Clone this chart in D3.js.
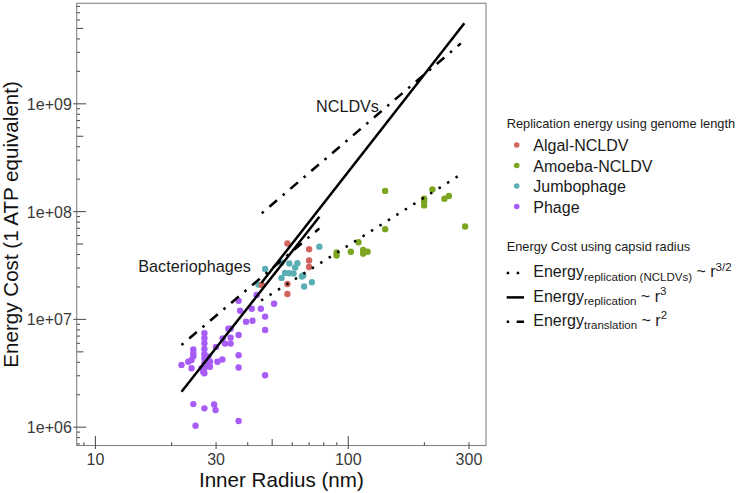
<!DOCTYPE html>
<html>
<head>
<meta charset="utf-8">
<script src="https://cdn.jsdelivr.net/npm/d3@7"></script>
<style>
  html, body { margin: 0; padding: 0; background: #ffffff; }
  svg { display: block; font-family: "Liberation Sans", Arial, Helvetica, sans-serif; }
</style>
</head>
<body>
<script>
// ---------------- DATA ----------------
const groups = ["Algal-NCLDV", "Amoeba-NCLDV", "Jumbophage", "Phage"];

// [inner radius (nm), energy cost (ATP)]
const phagePoints = [
  [43.6,1.67e7],[37.0,1.47e7],[51.1,1.38e7],[37.5,1.19e7],[41.7,1.24e7],[45.3,1.24e7],
  [47.1,1.05e7],[39.6,9.4e6],[42.0,9.6e6],[47.1,7.9e6],[33.7,8.1e6],[34.4,8.1e6],
  [37.0,7.1e6],[32.0,6.6e6],[34.4,6.7e6],[32.7,5.9e6],[34.4,5.9e6],[30.1,5.5e6],
  [30.5,4.0e6],[31.9,4.2e6],[37.0,4.6e6],[37.0,3.54e6],[47.1,3.0e6],
  [27.1,7.35e6],[27.1,6.61e6],[27.1,5.94e6],[27.1,5.26e6],[27.1,4.73e6],[27.1,4.31e6],
  [27.1,3.87e6],[27.1,3.48e6],[27.1,3.13e6],
  [24.5,5.2e6],[24.5,4.8e6],[24.5,4.5e6],[23.4,4.0e6],[24.1,4.16e6],[22.0,3.74e6],
  [24.1,3.48e6],[26.4,3.48e6],[26.8,3.24e6],[28.1,4.46e6],[28.5,4.0e6],[28.5,3.6e6],
  [27.7,3.74e6],
  [24.5,1.62e6],[27.1,1.48e6],[29.6,1.61e6],[30.0,1.43e6],[25.0,1.02e6],[37.0,1.13e6]
];
const jumbophagePoints = [
  [77.2,4.68e7],[54.7,3.34e7],[58.7,3.27e7],[63.2,3.28e7],[61.9,3.0e7],[47.1,2.90e7],
  [56.5,2.67e7],[58.7,2.65e7],[61.0,2.64e7],[65.8,2.47e7],[66.6,2.53e7],[54.7,2.40e7],
  [72.1,2.19e7],[67.2,2.0e7],[44.3,2.08e7]
];
const algalPoints = [
  [57.7,5.01e7],[70.3,4.42e7],[70.3,3.48e7],[70.3,3.03e7],[57.7,2.11e7],[57.7,1.70e7],[45.7,2.06e7]
];
const amoebaPoints = [
  [140.5,1.54e8],[216,1.59e8],[200.4,1.30e8],[200.4,1.22e8],[200.4,1.13e8],[241,1.30e8],
  [251,1.38e8],[291,7.2e7],[140.5,6.8e7],[110.2,5.14e7],[90.3,4.13e7],[90.3,3.87e7],
  [102.8,4.20e7],[115,4.36e7],[115,4.03e7],[119.8,4.20e7]
];

// Energy-cost curves: endpoints [radius, energy]
const phageReplicationLine   = [[22.0, 2.11e6], [77.2, 8.87e7]];   // ~ r^3
const phageTranslationLine   = [[22.0, 5.73e6], [77.2, 6.92e7]];   // ~ r^2
const ncldvReplicationLine   = [[45.5, 2.15e7], [289, 5.52e9]];    // ~ r^3
const ncldvTranslationLine   = [[45.7, 9.55e7], [280, 3.6e9]];     // ~ r^2
const ncldvGenomeRepLine     = [[45.4, 1.48e7], [280, 2.19e8]];    // ~ r^3/2

const xTickValues = [10, 30, 100, 300];
const xTickLabels = ["10", "30", "100", "300"];
const yTickValues = [1e6, 1e7, 1e8, 1e9];
const yTickLabels = ["1e+06", "1e+07", "1e+08", "1e+09"];

// ---------------- STYLE ----------------
const groupColors = {
  "Algal-NCLDV": "#D2665E",
  "Amoeba-NCLDV": "#7CA620",
  "Jumbophage": "#5AAFB5",
  "Phage": "#A85CF6"
};
const dash = { solid: null, dotted: "2.5,7.5", dotdash: "2.5,7.5,10,7.5" };
const W = 736, H = 493;
const pL = 76.7, pR = 486, pT = 3.3, pB = 445.5;

const svg = d3.select("body").append("svg").attr("width", W).attr("height", H);
svg.append("rect").attr("width", W).attr("height", H).attr("fill", "#fff");

const x = d3.scaleLog().domain([8.47, 352]).range([pL, pR]);
const y = d3.scaleLog().domain([6.69e5, 8.47e9]).range([pB, pT]);

// panel border
svg.append("rect").attr("x", pL).attr("y", pT)
  .attr("width", pR - pL).attr("height", pB - pT)
  .attr("fill", "none").attr("stroke", "#858585").attr("stroke-width", 1.1);

// log ticks (inside)
function logVals(lo, hi, mults) {
  const out = [];
  for (let k = Math.floor(Math.log10(lo)); k <= Math.ceil(Math.log10(hi)); k++) {
    mults.forEach(m => { const v = m * Math.pow(10, k); if (v >= lo && v <= hi) out.push(v); });
  }
  return out;
}
const tickCol = "#555";
const xd = x.domain(), yd = y.domain();
[[ [1], 9.5 ], [ [5], 6.6 ], [ [2,3,4,6,7,8,9], 3.3 ]].forEach(([m, len]) => {
  const gx = svg.append("g").attr("transform", `translate(0,${pB})`)
    .call(d3.axisBottom(x).tickValues(logVals(xd[0], xd[1], m)).tickSize(-len).tickFormat(""));
  gx.select(".domain").remove();
  gx.selectAll("line").attr("stroke", tickCol).attr("stroke-width", 1.1);
  const gy = svg.append("g").attr("transform", `translate(${pL},0)`)
    .call(d3.axisLeft(y).tickValues(logVals(yd[0], yd[1], m)).tickSize(-len).tickFormat(""));
  gy.select(".domain").remove();
  gy.selectAll("line").attr("stroke", tickCol).attr("stroke-width", 1.1);
});

// labelled axes (outside ticks)
const xAxis = svg.append("g").attr("transform", `translate(0,${pB})`)
  .call(d3.axisBottom(x).tickValues(xTickValues).tickSize(3.4).tickPadding(4.8)
    .tickFormat((d, i) => xTickLabels[i]));
xAxis.select(".domain").remove();
xAxis.selectAll("line").attr("stroke", tickCol).attr("stroke-width", 1.1);
xAxis.selectAll("text").attr("font-size", 16).attr("fill", "#3a3a3a")
  .attr("font-family", "Liberation Sans, Arial, sans-serif");

const yAxis = svg.append("g").attr("transform", `translate(${pL},0)`)
  .call(d3.axisLeft(y).tickValues(yTickValues).tickSize(3.4).tickPadding(1.5)
    .tickFormat((d, i) => yTickLabels[i]));
yAxis.select(".domain").remove();
yAxis.selectAll("line").attr("stroke", tickCol).attr("stroke-width", 1.1);
yAxis.selectAll("text").attr("font-size", 16).attr("fill", "#3a3a3a")
  .attr("dy", "0.37em")
  .attr("font-family", "Liberation Sans, Arial, sans-serif");

// points
const plotG = svg.append("g");
const pointSets = [
  ["Phage", phagePoints], ["Jumbophage", jumbophagePoints],
  ["Amoeba-NCLDV", amoebaPoints], ["Algal-NCLDV", algalPoints]
];
pointSets.forEach(([g, pts]) => {
  plotG.selectAll(null).data(pts).enter().append("circle")
    .attr("cx", d => x(d[0])).attr("cy", d => y(d[1])).attr("r", 3.2)
    .attr("fill", groupColors[g]);
});

// lines
const lineGen = d3.line().x(d => x(d[0])).y(d => y(d[1]));
const lineSets = [
  [phageReplicationLine, "solid"], [ncldvReplicationLine, "solid"],
  [phageTranslationLine, "dotdash"], [ncldvTranslationLine, "dotdash"],
  [ncldvGenomeRepLine, "dotted"]
];
lineSets.forEach(([pts, type]) => {
  plotG.append("path").attr("d", lineGen(pts)).attr("fill", "none")
    .attr("stroke", "#000").attr("stroke-width", 2.5)
    .attr("stroke-dasharray", dash[type]).attr("stroke-linecap", "butt");
});

// annotations
svg.append("text").attr("x", 316).attr("y", 111.7).attr("font-size", 16.2).attr("fill", "#1a1a1a").text("NCLDVs");
svg.append("text").attr("x", 138.3).attr("y", 271.7).attr("font-size", 16.2).attr("fill", "#1a1a1a").text("Bacteriophages");

// axis titles
svg.append("text").attr("x", (pL + pR) / 2).attr("y", 487).attr("text-anchor", "middle")
  .attr("font-size", 20.6).attr("fill", "#111").text("Inner Radius (nm)");
svg.append("text").attr("transform", `translate(18.3,${(pT + pB) / 2}) rotate(-90)`)
  .attr("text-anchor", "middle").attr("font-size", 20.6).attr("fill", "#111")
  .text("Energy Cost (1 ATP equivalent)");

// legend 1
const lg = svg.append("g");
lg.append("text").attr("x", 506.7).attr("y", 127.5).attr("font-size", 12.8).attr("fill", "#1a1a1a")
  .text("Replication energy using genome length");
groups.forEach((g, i) => {
  const cy = 145 + i * 20.5;
  lg.append("circle").attr("cx", 516.7).attr("cy", cy).attr("r", 2.8).attr("fill", groupColors[g]);
  lg.append("text").attr("x", 533.3).attr("y", cy + 6.2).attr("font-size", 16).attr("fill", "#1a1a1a").text(g);
});

// legend 2
lg.append("text").attr("x", 506.7).attr("y", 250.8).attr("font-size", 12.8).attr("fill", "#1a1a1a")
  .text("Energy Cost using capsid radius");
const legendLines = [
  { type: "dotted", sub: "replication (NCLDVs)", sup: "3/2" },
  { type: "solid", sub: "replication", sup: "3" },
  { type: "dotdash", sub: "translation", sup: "2" }
];
legendLines.forEach((it, i) => {
  const by = 277.3 + i * 24.3;
  const ky = by - 4.2;
  lg.append("line").attr("x1", 506.7).attr("x2", 524).attr("y1", ky).attr("y2", ky)
    .attr("stroke", "#000").attr("stroke-width", 2.5)
    .attr("stroke-dasharray", dash[it.type]);
  const t = lg.append("text").attr("x", 533.3).attr("y", by).attr("font-size", 16).attr("fill", "#1a1a1a");
  t.append("tspan").text("Energy");
  t.append("tspan").attr("font-size", 11.5).attr("dy", 3.5).text(it.sub);
  t.append("tspan").attr("dy", -3.5).text(" ~ r");
  t.append("tspan").attr("font-size", 11.5).attr("dy", -6.5).text(it.sup);
});
</script>
</body>
</html>
